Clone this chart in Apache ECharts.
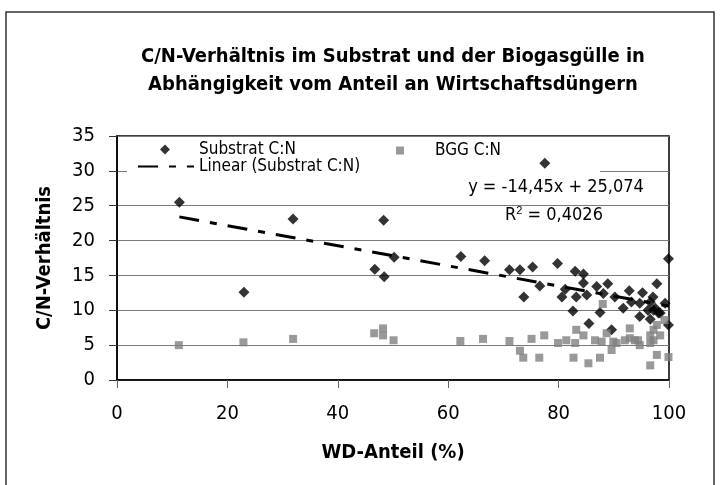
<!DOCTYPE html>
<html>
<head>
<meta charset="utf-8">
<script src="https://cdn.jsdelivr.net/npm/echarts@6/dist/echarts.min.js"></script>
<style>
  html, body { margin: 0; padding: 0; background: #fff; }
  #chart { width: 721px; height: 485px; }
</style>
</head>
<body>
<div id="chart"></div>
<script>
// Substrat C:N  [WD-Anteil %, C/N]
const substratCN = [
  [11.3, 25.5], [23.0, 12.6], [31.9, 23.1], [46.7, 15.9], [48.3, 22.9], [48.4, 14.8], [50.2, 17.6],
  [62.3, 17.7], [66.6, 17.1], [71.1, 15.8], [73.0, 15.8], [73.7, 11.9], [75.3, 16.2], [76.6, 13.5],
  [77.5, 31.1], [79.8, 16.7], [80.6, 11.9], [81.2, 13.0], [82.6, 9.9], [83.2, 11.9], [83.0, 15.6],
  [84.5, 13.9], [84.5, 15.2], [85.1, 12.2], [85.5, 8.1], [86.9, 13.4], [87.5, 9.7], [88.1, 12.4],
  [88.9, 13.8], [89.6, 7.2], [90.2, 11.9], [91.7, 10.3], [92.8, 12.8], [93.2, 11.2], [94.7, 9.1],
  [94.7, 11.0], [95.2, 12.5], [96.2, 10.0], [96.6, 8.7], [96.6, 11.2], [97.1, 11.9], [97.2, 10.0],
  [97.5, 10.3], [97.8, 13.8], [98.1, 9.6], [98.4, 9.6], [99.3, 11.0], [99.9, 7.9], [99.9, 17.4]
];
// BGG C:N  [WD-Anteil %, C/N]
const bggCN = [
  [11.2, 5.0], [22.9, 5.4], [31.9, 5.9], [46.6, 6.7], [48.2, 7.4], [48.2, 6.4], [50.1, 5.7],
  [62.2, 5.6], [66.3, 5.9], [71.1, 5.6], [73.0, 4.2], [73.6, 3.2], [75.1, 5.9], [76.5, 3.2],
  [77.4, 6.4], [79.9, 5.3], [81.4, 5.7], [82.7, 3.2], [83.0, 5.3], [83.2, 7.2], [84.5, 6.4],
  [85.4, 2.4], [86.6, 5.7], [87.5, 3.2], [87.8, 5.5], [88.0, 10.9], [88.7, 6.7], [89.6, 4.3],
  [89.9, 5.5], [90.5, 5.3], [92.0, 5.7], [92.9, 7.4], [92.9, 6.0], [93.8, 5.7], [94.4, 5.7],
  [94.7, 5.0], [96.6, 6.4], [96.6, 5.3], [96.6, 2.1], [97.2, 7.2], [97.2, 5.7], [97.8, 7.9],
  [97.8, 3.6], [98.4, 6.4], [99.2, 8.6], [99.9, 3.3]
];
// Linear (Substrat C:N), endpoints
const trendLine = [[11.3, 23.4], [100, 10.6]];
const trendText = ['y = -14,45x + 25,074', 'R{sup|2} = 0,4026'];

const chartTitle = 'C/N-Verhältnis im Substrat und der Biogasgülle in\nAbhängigkeit vom Anteil an Wirtschaftsdüngern';
const xName = 'WD-Anteil (%)';
const yName = 'C/N-Verhältnis';

const font = "'Liberation Sans Narrow', 'DejaVu Sans Condensed', 'Noto Sans', sans-serif";

const myChart = echarts.init(document.getElementById('chart'));

function legendText(padLeft) {
  return { fontFamily: font, fontSize: 17, color: '#000', padding: [0, 0, 0, padLeft] };
}

const option = {
  animation: false,
  backgroundColor: '#fff',
  grid: {
    left: 117, right: 52, top: 136, bottom: 105,
    show: true, borderColor: '#000', borderWidth: 1.5,
    containLabel: false, outerBoundsMode: 'none'
  },
  legend: [
    {
      data: [{ name: 'Substrat C:N', icon: 'diamond' }], left: 160, top: 141, itemWidth: 10, itemHeight: 10,
      padding: 0, textStyle: legendText(24)
    },
    {
      data: ['Linear (Substrat C:N)'], left: 137, top: 158, itemWidth: 56, itemHeight: 10,
      padding: 0, itemStyle: { opacity: 0 }, textStyle: legendText(0)
    },
    {
      data: [{ name: 'BGG C:N', icon: 'rect' }], left: 396, top: 142, itemWidth: 8, itemHeight: 8,
      padding: 0, textStyle: legendText(26)
    }
  ],
  xAxis: {
    type: 'value', min: 0, max: 100, interval: 20,
    name: xName, nameLocation: 'middle', nameGap: 63,
    nameTextStyle: { fontFamily: font, fontSize: 20, fontWeight: 'bold', color: '#000' },
    axisLine: { lineStyle: { color: '#000', width: 1.5 } },
    axisTick: { length: 8, lineStyle: { color: '#666' } },
    axisLabel: { margin: 24, fontFamily: font, fontSize: 20, color: '#000' },
    splitLine: { show: false }
  },
  yAxis: {
    type: 'value', min: 0, max: 35, interval: 5,
    name: yName, nameLocation: 'middle', nameGap: 62, nameRotate: 90,
    nameTextStyle: { fontFamily: font, fontSize: 20, fontWeight: 'bold', color: '#000' },
    axisLine: { show: true, lineStyle: { color: '#000', width: 1.5 } },
    axisTick: { show: true, length: 8, lineStyle: { color: '#333' } },
    axisLabel: { margin: 22, fontFamily: font, fontSize: 20, color: '#000' },
    splitLine: { show: true, lineStyle: { color: '#7a7a7a', width: 1 } }
  },
  graphic: [
    // frame around the chart
    { type: 'rect', shape: { x: 6, y: 12, width: 708, height: 480 }, style: { fill: 'none', stroke: '#333', lineWidth: 1.5 }, z: 0 },
    // legend background covering grid lines
    { type: 'rect', shape: { x: 127, y: 137.5, width: 473, height: 38 }, style: { fill: '#fff' }, z: 1 },
    {
      type: 'text', x: 393, y: 71, z: 5,
      style: {
        text: chartTitle, align: 'center', verticalAlign: 'middle',
        font: 'bold 20px ' + font, lineHeight: 28, fill: '#000'
      }
    },
    {
      type: 'text', x: 556, y: 187, z: 5,
      style: { text: trendText[0], align: 'center', verticalAlign: 'middle', font: '18px ' + font, fill: '#000' }
    },
    {
      type: 'text', x: 554, y: 215, z: 5,
      style: {
        text: trendText[1], align: 'center', verticalAlign: 'middle', font: '18px ' + font, fill: '#000',
        rich: { sup: { fontSize: 11, verticalAlign: 'top', padding: [0, 0, 8, 0] } }
      }
    }
  ],
  series: [
    {
      name: 'Substrat C:N', type: 'scatter', symbol: 'diamond', symbolSize: 11,
      itemStyle: { color: '#000' }, data: substratCN, z: 3
    },
    {
      name: 'BGG C:N', type: 'scatter', symbol: 'rect', symbolSize: 8,
      itemStyle: { color: '#808080' }, data: bggCN, z: 3
    },
    {
      name: 'Linear (Substrat C:N)', type: 'line', showSymbol: false, symbol: 'none',
      lineStyle: { color: '#000', width: 3, type: [20, 11, 7, 11] },
      itemStyle: { color: '#000' },
      data: trendLine, z: 4
    }
  ]
};
myChart.setOption(option);
</script>
</body>
</html>
